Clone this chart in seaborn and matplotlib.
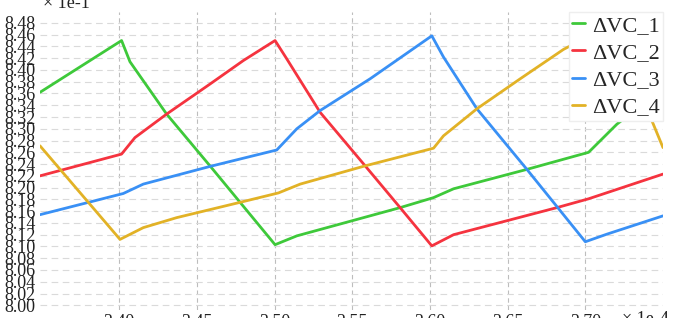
import matplotlib
matplotlib.use("Agg")
import matplotlib.pyplot as plt
import numpy as np
import pandas as pd
import seaborn as sns

# values (x in units of 1e4, y in units of 1e-1)
x_vc1 = [3.349, 3.4015, 3.4069, 3.4305, 3.4584, 3.5003, 3.5143, 3.5808, 3.6023,
         3.6152, 3.6624, 3.7021, 3.7204, 3.7500]
y_vc1 = [8.362, 8.450, 8.414, 8.325, 8.237, 8.103, 8.118, 8.166, 8.183,
         8.198, 8.231, 8.260, 8.308, 8.368]

x_vc2 = [3.349, 3.4015, 3.4101, 3.4305, 3.4584, 3.4799, 3.5003, 3.5078, 3.5293,
         3.5583, 3.5808, 3.6012, 3.6152, 3.6817, 3.7021, 3.7500]
y_vc2 = [8.220, 8.257, 8.285, 8.325, 8.376, 8.416, 8.450, 8.419, 8.328,
         8.237, 8.166, 8.101, 8.120, 8.166, 8.181, 8.223]

x_vc3 = [3.349, 3.4026, 3.4155, 3.4584, 3.5014, 3.5143, 3.5293, 3.5615, 3.6012,
         3.6087, 3.6302, 3.6624, 3.7000, 3.7140, 3.7500]
y_vc3 = [8.154, 8.190, 8.206, 8.236, 8.264, 8.300, 8.331, 8.385, 8.458,
         8.422, 8.334, 8.231, 8.108, 8.121, 8.152]

x_vc4 = [3.349, 3.4005, 3.4155, 3.4370, 3.4778, 3.5025, 3.5165, 3.5583, 3.6023,
         3.6087, 3.6302, 3.6581, 3.6860, 3.7006, 3.7060, 3.7339, 3.7500]
y_vc4 = [8.271, 8.112, 8.132, 8.149, 8.175, 8.191, 8.206, 8.237, 8.267,
         8.288, 8.334, 8.385, 8.435, 8.455, 8.420, 8.371, 8.268]

names = ["ΔVC_1", "ΔVC_2", "ΔVC_3", "ΔVC_4"]
colors = ["#3ec93a", "#f5333f", "#3990f5", "#e2b226"]
y_ticks = [round(8.00 + 0.02 * i, 2) for i in range(25)]
x_ticks = [3.40, 3.45, 3.50, 3.55, 3.60, 3.65, 3.70]

frames = []
for name, xs, ys in zip(names, [x_vc1, x_vc2, x_vc3, x_vc4], [y_vc1, y_vc2, y_vc3, y_vc4]):
    frames.append(pd.DataFrame({"x": xs, "y": ys, "series": name}))
df = pd.concat(frames, ignore_index=True)

sns.set_style("white")
plt.rcParams["font.family"] = ["Liberation Serif", "DejaVu Serif"]

fig, ax = plt.subplots(figsize=(6.8, 3.18), dpi=100)
fig.subplots_adjust(left=40 / 680, right=663 / 680, top=1 - 12 / 318, bottom=1 - 310 / 318)

sns.lineplot(data=df, x="x", y="y", hue="series", palette=colors, sort=False,
             estimator=None, linewidth=2.0, ax=ax)

ax.set_xlim(3.349, 3.750)
ax.set_ylim(7.992, 8.4985)
ax.set_yticks(y_ticks)
ax.set_yticklabels([f"{v:.2f}" for v in y_ticks])
ax.set_xticks(x_ticks)
ax.set_xticklabels([f"{v:.2f}" for v in x_ticks])
ax.tick_params(axis="both", length=0, labelsize=13, pad=3, colors="#222222")
ax.set(xlabel=None, ylabel=None)

ax.grid(True, axis="y", linestyle=(0, (6, 4)), color="#dadada", linewidth=0.8)
ax.grid(True, axis="x", linestyle=(0, (4, 3)), color="#bdbdbd", linewidth=0.8)
for s in ax.spines.values():
    s.set_visible(False)

leg = ax.legend(loc="upper right", bbox_to_anchor=(1.0, 1.0), borderaxespad=0.0,
                fontsize=16, handlelength=0.6, handletextpad=0.3, labelspacing=0.3,
                borderpad=0.15, fancybox=False, framealpha=1.0, edgecolor="#eeeeee")
for line in leg.get_lines():
    line.set_linewidth(2.0)

fig.text(43 / 680, 1 - 8 / 318, "× 1e-1", fontsize=13, color="#222222", va="baseline")
fig.text(622 / 680, 1 - 324 / 318, "× 1e-4", fontsize=13, color="#222222", va="baseline")

fig.savefig("out.png", dpi=100)
